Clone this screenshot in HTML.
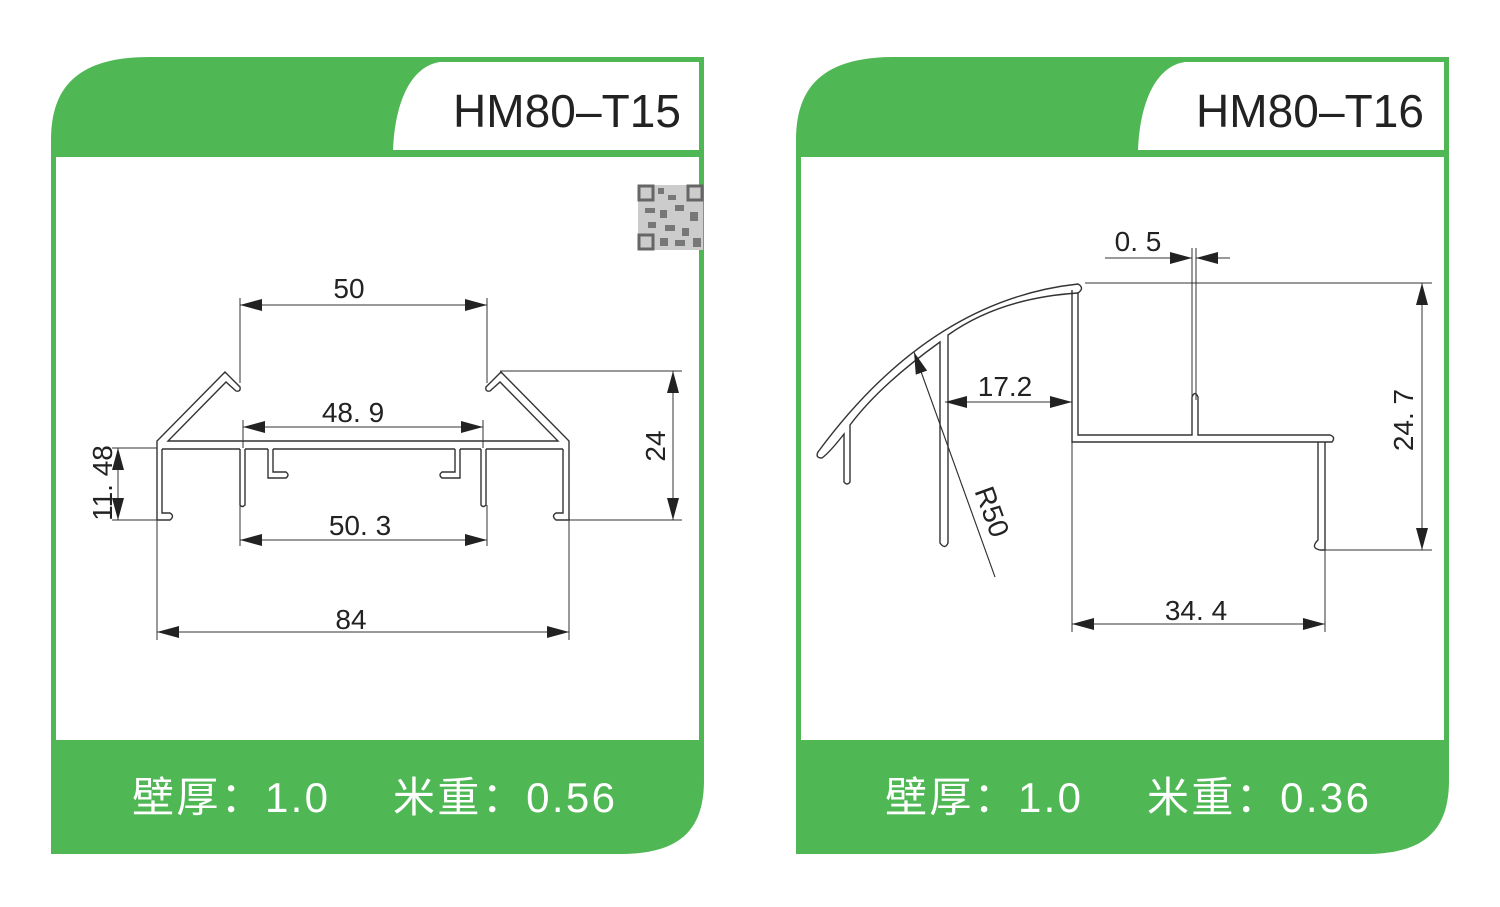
<!DOCTYPE html>
<html><head><meta charset="utf-8"><style>
html,body{margin:0;padding:0;background:#fff;}
svg{display:block;}
text{font-family:"Liberation Sans","Noto Sans CJK SC",sans-serif;}
</style></head><body>
<svg width="1500" height="907" viewBox="0 0 1500 907" xmlns="http://www.w3.org/2000/svg">
<defs>
<marker id="a" viewBox="0 0 22 12" refX="22" refY="6" markerWidth="22" markerHeight="12" markerUnits="userSpaceOnUse" orient="auto-start-reverse">
<path d="M0,0 L22,6 L0,12 Z" fill="#222"/></marker>
<g id="panel">
<path d="M51,140 C51,85 80,57 150,57 L704,57 L704,780 C704,830 680,854 620,854 L51,854 Z" fill="#4fb854"/>
<rect x="56" y="157" width="643" height="583" fill="#fff"/>
<path d="M393,150 C395,100 412,66 440,62 L699,62 L699,150 Z" fill="#fff"/>
</g>
</defs>

<use href="#panel"/>
<use href="#panel" transform="translate(745,0)"/>

<text x="681" y="127" font-size="46" fill="#222" text-anchor="end" textLength="228">HM80–T15</text>
<text x="1424" y="127" font-size="46" fill="#222" text-anchor="end" textLength="228">HM80–T16</text>

<text x="132" y="812" font-size="42" fill="#fff" textLength="196">壁厚：1.0</text>
<text x="393" y="812" font-size="42" fill="#fff" textLength="222">米重：0.56</text>
<text x="885" y="812" font-size="42" fill="#fff" textLength="196">壁厚：1.0</text>
<text x="1147" y="812" font-size="42" fill="#fff" textLength="222">米重：0.36</text>

<!-- QR -->
<g fill="#777">
<rect x="638" y="185" width="65" height="65" fill="#ccc"/>
<rect x="639" y="186" width="14" height="14" fill="none" stroke="#666" stroke-width="3"/>
<rect x="688" y="186" width="14" height="14" fill="none" stroke="#666" stroke-width="3"/>
<rect x="639" y="235" width="14" height="14" fill="none" stroke="#666" stroke-width="3"/>
<rect x="658" y="188" width="6" height="6"/><rect x="668" y="195" width="8" height="5"/><rect x="645" y="208" width="10" height="5"/>
<rect x="660" y="210" width="7" height="8"/><rect x="675" y="205" width="9" height="6"/><rect x="690" y="212" width="8" height="9"/>
<rect x="648" y="222" width="8" height="6"/><rect x="665" y="225" width="10" height="6"/><rect x="682" y="228" width="7" height="8"/>
<rect x="660" y="238" width="8" height="8"/><rect x="675" y="240" width="10" height="6"/><rect x="693" y="238" width="8" height="9"/>
</g>

<!-- LEFT PROFILE -->
<g fill="none" stroke="#333" stroke-width="1.4">
<path d="M157,520 L157,441 L225,372 L240,387 Q241,392 236,391 L226,382 L168,441 L558,441 L500,382 L490,391 Q485,392 486,387 L501,372 L569,441 L569,520"/>
<path d="M162,449 L240,449 M245,449 L268,449 M273,449 L455,449 M460,449 L481,449 M486,449 L563,449"/>
<path d="M162,449 L162,513 L170,513 Q175,516 170,520 L157,520"/>
<path d="M563,449 L563,513 L556,513 Q551,516 556,520 L569,520"/>
<path d="M240,449 L240,505 Q242,508 245,505 L245,449"/>
<path d="M481,449 L481,505 Q483,508 486,505 L486,449"/>
<path d="M268,449 L268,478 L286,478 Q290,475 286,472 L273,472 L273,449"/>
<path d="M460,449 L460,478 L442,478 Q438,475 442,472 L455,472 L455,449"/>
</g>
<g fill="none" stroke="#333" stroke-width="1">
<path d="M240,298 L240,383 M487,298 L487,383 M243,420 L243,448 M483,420 L483,448 M240,505 L240,546 M487,505 L487,546 M157,520 L157,640 M569,520 L569,640 M500,371 L682,371 M569,520 L682,520 M112,448 L157,448 M112,520 L157,520"/>
<line x1="240" y1="305" x2="487" y2="305" marker-start="url(#a)" marker-end="url(#a)"/>
<line x1="243" y1="427" x2="483" y2="427" marker-start="url(#a)" marker-end="url(#a)"/>
<line x1="240" y1="540" x2="487" y2="540" marker-start="url(#a)" marker-end="url(#a)"/>
<line x1="157" y1="632" x2="569" y2="632" marker-start="url(#a)" marker-end="url(#a)"/>
<line x1="673" y1="371" x2="673" y2="520" marker-start="url(#a)" marker-end="url(#a)"/>
<line x1="118" y1="448" x2="118" y2="520" marker-start="url(#a)" marker-end="url(#a)"/>
</g>
<g font-size="28" fill="#222" text-anchor="middle">
<text x="349" y="298">50</text>
<text x="353" y="422">48. 9</text>
<text x="360" y="535">50. 3</text>
<text x="351" y="629">84</text>
<text transform="translate(665,446) rotate(-90)">24</text>
<text transform="translate(112,483) rotate(-90)">11. 48</text>
</g>

<!-- RIGHT PROFILE -->
<g fill="none" stroke="#333" stroke-width="1.4">
<path d="M818,452 Q930,300 1078,284 Q1085,288 1078,293 Q1000,298 948,335 L948,543 Q945,550 940,543 L940,342 Q880,385 850,425 L850,482 Q847,486 844,482 L844,434 Q830,452 822,458 Q815,458 818,452"/>
<path d="M1072,290 L1072,442 L1332,442 Q1336,437 1330,435 L1198,435 L1198,397 Q1195,390 1192,397 L1192,435 L1078,435 L1078,292"/>
<path d="M1318,442 L1318,540 Q1310,548 1320,550 L1325,550 L1325,442"/>
</g>
<g fill="none" stroke="#333" stroke-width="1">
<path d="M1192,248 L1192,415 M1196,248 L1196,400 M1085,283 L1432,283 M1325,550 L1432,550 M1072,442 L1072,632 M1325,550 L1325,632 M1105,258 L1170,258 M1218,258 L1230,258 M915,355 L995,577"/>
<line x1="1170" y1="258" x2="1192" y2="258" marker-end="url(#a)"/>
<line x1="1218" y1="258" x2="1196" y2="258" marker-end="url(#a)"/>
<line x1="995" y1="577" x2="914" y2="352" marker-end="url(#a)"/>
<line x1="945" y1="402" x2="1072" y2="402" marker-start="url(#a)" marker-end="url(#a)"/>
<line x1="1072" y1="624" x2="1325" y2="624" marker-start="url(#a)" marker-end="url(#a)"/>
<line x1="1422" y1="283" x2="1422" y2="550" marker-start="url(#a)" marker-end="url(#a)"/>
</g>
<g font-size="28" fill="#222" text-anchor="middle">
<text x="1138" y="251">0. 5</text>
<text x="1005" y="396">17.2</text>
<text x="1196" y="620">34. 4</text>
<text transform="translate(1413,420) rotate(-90)">24. 7</text>
<text transform="translate(983,515) rotate(70)">R50</text>
</g>
</svg>
</body></html>
